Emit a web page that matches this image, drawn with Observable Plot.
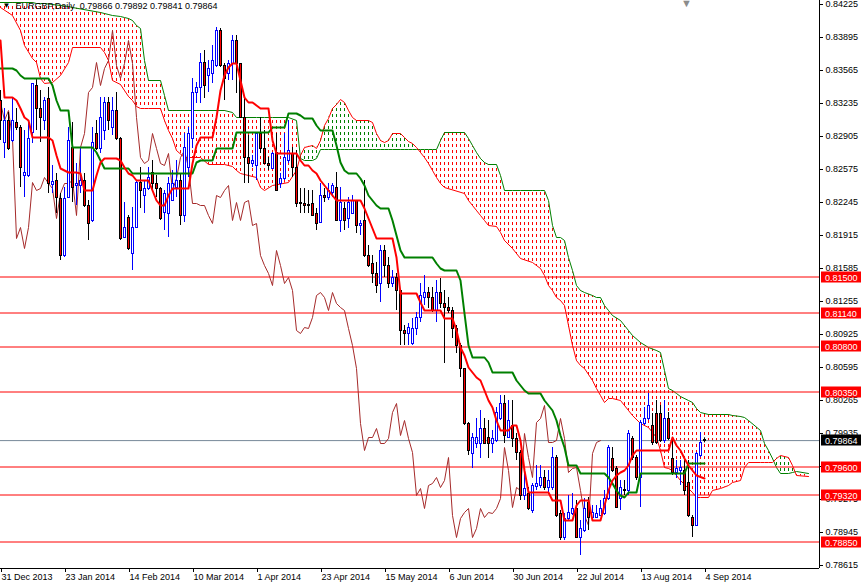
<!DOCTYPE html>
<html><head><meta charset="utf-8">
<script src="https://cdn.jsdelivr.net/npm/d3@7"></script>
<script src="https://cdn.jsdelivr.net/npm/@observablehq/plot@0.6"></script>
<style>
html,body{margin:0;padding:0;background:#fff;}
#chart{position:relative;width:861px;height:585px;overflow:hidden;}
</style></head><body>
<svg width="0" height="0" style="position:absolute">
<defs>
<pattern id="hatchRed" patternUnits="userSpaceOnUse" x="0" y="0" width="4" height="6"><rect x="0" y="0" width="1" height="3" fill="#ff0000"/></pattern>
<pattern id="hatchGreen" patternUnits="userSpaceOnUse" x="0" y="0" width="4" height="6"><rect x="0" y="0" width="1" height="3" fill="#008000"/></pattern>
</defs></svg>
<div id="chart"></div>
<script>
// ---------------- data ----------------
const symbolTitle = "EURGBP,Daily  0.79866 0.79892 0.79841 0.79864";
const tickBars = [0,16,32,48,64,80,96,112,128,144,160,176];
const tickLabels = ["31 Dec 2013","23 Jan 2014","14 Feb 2014","10 Mar 2014","1 Apr 2014","23 Apr 2014","15 May 2014","6 Jun 2014","30 Jun 2014","22 Jul 2014","13 Aug 2014","4 Sep 2014"];
const priceTicks = [0.84225,0.83895,0.83565,0.83235,0.82905,0.82575,0.82245,0.81915,0.81585,0.81255,0.80925,0.80595,0.80265,0.79935,0.79605,0.79275,0.78945,0.78615];
const hiddenTicks = [0.79605];
const levels = [0.81500,0.81140,0.80800,0.80350,0.79600,0.79320,0.78850];
const lastPrice = 0.79864;
const chikouLag = 26;

const opens = [
.83265,.82845,.83065,.82865,.83045,.82995,.82515,.82515,.82945,.83415,
.83185,.83065,.83285,.82425,.82465,.82285,.81715,.82295,.82795,.82415,
.82415,.82465,.82215,.82065,.82935,.82785,.82965,.83245,.82995,.83165,
.82885,.81895,.82095,.81735,.81995,.82445,.82315,.82385,.82545,.82435,
.82385,.82145,.82135,.82265,.82395,.82465,.82115,.82595,.82885,.83345,
.83395,.83645,.83515,.83535,.83615,.83965,.83615,.83535,.83635,.83865,
.83635,.83095,.82695,.82635,.82615,.82935,.82785,.82635,.82585,.82745,
.82435,.82485,.82665,.82735,.82595,.82245,.82235,.82225,.82235,.82135,
.82045,.82315,.82295,.82345,.82395,.82065,.82185,.82085,.82135,.82265,
.82015,.82065,.81715,.81635,.81535,.81435,.81765,.81615,.81435,.81495,
.81365,.80965,.80935,.80835,.80985,.81095,.81295,.81345,.81295,.81165,
.81345,.81235,.81195,.81165,.80985,.80815,.80585,.80035,.79735,.79835,
.79835,.79985,.79895,.79835,.79865,.80085,.80235,.79895,.80015,.79885,
.79745,.79315,.79335,.79165,.79405,.79415,.79495,.79395,.79395,.79695,
.79135,.78895,.79085,.79135,.79185,.78895,.78965,.79245,.79095,.79095,
.79115,.79135,.79285,.79685,.79585,.79285,.79375,.79365,.79885,.79695,
.79495,.80035,.80085,.80015,.80135,.80135,.79865,.80085,.79685,.79545,
.79565,.79565,.79445,.79095,.79015,.79715,.79866];
const highs = [
.83365,.83185,.83145,.83285,.83185,.83015,.82965,.83065,.83435,.83485,
.83365,.83295,.83395,.82615,.82535,.82335,.82395,.82995,.83045,.82635,
.82795,.82535,.82265,.82995,.83065,.83295,.83295,.83295,.83295,.83345,
.82895,.82245,.82115,.82195,.82465,.82595,.82465,.82595,.82665,.82515,
.82395,.82365,.82495,.82565,.82665,.82535,.82935,.82995,.83485,.83445,
.83735,.83765,.83665,.83815,.83995,.83985,.83635,.83665,.83915,.83915,
.83635,.83295,.82915,.82715,.82935,.83095,.82965,.82695,.82745,.82935,
.82535,.82935,.83065,.82795,.82765,.82385,.82385,.82365,.82365,.82185,
.82435,.82385,.82435,.82435,.82545,.82395,.82245,.82295,.82315,.82265,
.82065,.82465,.81815,.81715,.81645,.81815,.81815,.81695,.81565,.81535,
.81365,.81015,.81035,.81085,.81145,.81435,.81515,.81395,.81395,.81465,
.81485,.81365,.81295,.81195,.81015,.80835,.80585,.80045,.79935,.80085,
.80165,.80085,.80065,.79965,.80195,.80315,.80315,.80265,.80265,.79935,
.79765,.79565,.79395,.79435,.79615,.79615,.79565,.79565,.79795,.79715,
.79165,.79135,.79315,.79335,.79265,.79065,.79285,.79295,.79215,.79215,
.79265,.79365,.79815,.79795,.79605,.79465,.79465,.79965,.79905,.79715,
.80065,.80195,.80335,.80135,.80265,.80215,.80265,.80145,.79865,.79665,
.79665,.79685,.79665,.79115,.79745,.79945,.79892];
const lows = [
.82865,.82685,.82765,.82845,.82965,.82395,.82295,.82495,.82835,.82965,
.82845,.82965,.82335,.82335,.82135,.81665,.81695,.82295,.82245,.82215,
.82335,.82195,.81865,.82045,.82765,.82735,.82865,.82965,.82915,.82865,
.81865,.81885,.81765,.81565,.81995,.82185,.82135,.82365,.82365,.82295,
.82065,.81965,.81895,.82265,.82295,.82015,.82045,.82495,.82785,.83235,
.83235,.83285,.83345,.83435,.83595,.83595,.83265,.83465,.83465,.83335,
.83085,.82435,.82435,.82595,.82465,.82735,.82635,.82565,.82585,.82365,
.82385,.82465,.82635,.82495,.82195,.82135,.82135,.82135,.82115,.81965,
.82035,.82245,.82265,.82295,.82065,.81945,.81965,.81985,.82135,.81935,
.81915,.81695,.81595,.81435,.81335,.81245,.81495,.81385,.81395,.81165,
.80815,.80815,.80815,.80815,.80915,.81045,.81215,.81185,.81145,.81045,
.81185,.80635,.81135,.80885,.80735,.80495,.80015,.79715,.79585,.79785,
.79685,.79835,.79685,.79735,.79845,.80065,.79835,.79885,.79795,.79665,
.79265,.79265,.79165,.79135,.79365,.79385,.79365,.79345,.79365,.79095,
.78865,.78865,.79065,.79115,.78885,.78715,.78945,.78965,.79065,.79085,
.79115,.79115,.79265,.79545,.79185,.79165,.79315,.79315,.79665,.79465,
.79195,.80015,.80065,.79815,.79825,.79845,.79835,.79865,.79515,.79485,
.79415,.79315,.79095,.78895,.79015,.79695,.79841];
const closes = [
.83065,.83065,.82785,.83065,.82995,.82595,.82545,.82885,.83435,.83185,
.83095,.83265,.82435,.82455,.82295,.81715,.82285,.82865,.82395,.82435,
.82465,.82215,.82035,.82845,.82785,.83095,.83245,.83065,.83165,.82885,
.81885,.81995,.81785,.81995,.82445,.82365,.82385,.82495,.82435,.82385,
.82085,.82335,.82435,.82435,.82465,.82115,.82795,.82935,.83345,.83395,
.83645,.83415,.83585,.83665,.83965,.83615,.83485,.83635,.83865,.83635,
.83095,.82695,.82635,.82665,.82935,.82785,.82635,.82615,.82735,.82365,
.82485,.82695,.82765,.82595,.82235,.82235,.82215,.82215,.82115,.82035,
.82315,.82295,.82365,.82415,.82065,.82245,.82065,.82245,.82265,.82015,
.82035,.81715,.81615,.81535,.81415,.81765,.81615,.81435,.81495,.81365,
.80965,.80935,.80995,.80985,.81095,.81315,.81345,.81295,.81165,.81345,
.81235,.81195,.81165,.80985,.80815,.80585,.80035,.79765,.79895,.79895,
.79985,.79835,.79835,.79885,.80145,.80235,.79915,.80065,.79885,.79745,
.79315,.79385,.79185,.79415,.79435,.79495,.79395,.79465,.79695,.79115,
.78895,.79085,.79145,.79185,.78895,.78985,.79185,.79095,.79145,.79135,
.79185,.79285,.79795,.79565,.79195,.79395,.79365,.79935,.79695,.79495,
.80045,.80085,.80215,.79845,.79845,.79865,.80085,.79885,.79545,.79585,
.79595,.79365,.79115,.79015,.79735,.79845,.79864];

// Tenkan-sen [bar, price]
const tenkan = [[0,.83865],[1,.83295],[3,.83295],[4,.83265],[5,.83185],[6,.83095],[7,.83065],[8,.82895],[12,.82895],[13,.82865],[14,.82715],[15,.82585],[16,.82565],[17,.82545],[19,.82545],[20,.82535],[21,.82365],[23,.82365],[24,.82515],[25,.82645],[26,.82685],[29,.82685],[30,.82665],[31,.82595],[32,.82535],[33,.82515],[34,.82465],[37,.82465],[38,.82365],[39,.82265],[40,.82215],[41,.82215],[42,.82315],[43,.82385],[47,.82385],[48,.82635],[49,.82815],[50,.82895],[53,.82895],[54,.83095],[55,.83365],[56,.83515],[57,.83595],[58,.83635],[59,.83635],[60,.83465],[61,.83295],[62,.83245],[63,.83245],[64,.83215],[65,.83185],[67,.83185],[68,.82865],[69,.82735],[74,.82735],[75,.82665],[76,.82615],[77,.82615],[78,.82565],[79,.82535],[80,.82465],[81,.82415],[82,.82365],[83,.82315],[84,.82265],[90,.82265],[91,.82185],[92,.82085],[93,.81985],[94,.81885],[98,.81885],[99,.81695],[100,.81335],[104,.81335],[105,.81245],[106,.81165],[110,.81165],[111,.81085],[113,.81085],[114,.80965],[115,.80795],[116,.80715],[117,.80595],[118,.80545],[119,.80495],[120,.80465],[121,.80365],[122,.80265],[123,.80195],[124,.80065],[125,.79965],[127,.79965],[128,.80015],[129,.80015],[130,.79865],[131,.79565],[132,.79345],[137,.79345],[138,.79265],[140,.79265],[141,.79065],[143,.79065],[144,.79215],[145,.79265],[147,.79265],[148,.79065],[150,.79065],[151,.79215],[152,.79365],[153,.79465],[154,.79515],[155,.79545],[156,.79565],[157,.79615],[158,.79715],[159,.79765],[167,.79765],[168,.79895],[169,.79815],[170,.79765],[171,.79685],[172,.79615],[173,.79565],[174,.79515],[176,.79485]];
// Kijun-sen [bar, price]
const kijun = [[0,.83585],[3,.83585],[4,.83565],[5,.83515],[6,.83485],[12,.83485],[13,.83415],[14,.83265],[15,.83165],[17,.83165],[18,.82795],[23,.82795],[24,.82745],[25,.82665],[26,.82585],[32,.82585],[33,.82535],[48,.82535],[49,.82645],[50,.82665],[53,.82665],[54,.82785],[58,.82785],[59,.82945],[67,.82945],[68,.82995],[71,.82995],[72,.83135],[74,.83135],[75,.83115],[76,.83085],[78,.83085],[79,.83015],[80,.82965],[83,.82965],[84,.82815],[85,.82645],[86,.82565],[87,.82535],[89,.82535],[90,.82485],[91,.82415],[92,.82315],[93,.82265],[94,.82215],[95,.82185],[97,.82185],[98,.82065],[99,.81915],[100,.81765],[101,.81695],[108,.81695],[109,.81635],[110,.81585],[111,.81565],[114,.81565],[115,.81465],[116,.81135],[117,.80815],[118,.80695],[121,.80695],[122,.80645],[123,.80545],[128,.80545],[129,.80465],[130,.80415],[131,.80365],[132,.80335],[135,.80335],[136,.80265],[137,.80215],[138,.80165],[139,.80065],[140,.79915],[141,.79795],[142,.79615],[144,.79615],[145,.79535],[151,.79535],[152,.79495],[153,.79435],[154,.79365],[155,.79315],[156,.79295],[157,.79345],[159,.79345],[160,.79535],[171,.79535],[172,.79635],[176,.79635]];
// Senkou spans [bar, spanA, spanB]
const spans = [[0,.84195,.84245],[3,.84115,.84245],[5,.83965,.84245],[6,.83815,.84245],[8,.83685,.84245],[9,.83645,.84235],[10,.83485,.84235],[11,.83435,.84235],[13,.83445,.84225],[15,.83515,.84215],[17,.83645,.84205],[18,.83795,.84195],[25,.83795,.84145],[26,.83745,.84135],[27,.83665,.84125],[28,.83465,.84115],[30,.83425,.84105],[31,.83365,.84095],[32,.83305,.84085],[33,.83265,.84065],[34,.83205,.84015],[35,.83185,.83985],[36,.83185,.83665],[37,.83185,.83465],[40,.83185,.83465],[41,.83065,.83315],[42,.82965,.83165],[43,.82885,.83165],[44,.82765,.83165],[46,.82695,.83165],[50,.82695,.83165],[52,.82625,.83165],[56,.82625,.83165],[58,.82605,.83145],[59,.82565,.83095],[60,.82535,.83095],[64,.82495,.83095],[65,.82395,.83095],[66,.82365,.83095],[68,.82415,.83095],[72,.82445,.83095],[74,.82565,.83065],[75,.82715,.82685],[76,.82795,.82665],[78,.82815,.82665],[79,.82785,.82685],[80,.82865,.82775],[81,.83015,.82775],[82,.83085,.82775],[83,.83185,.82775],[84,.83225,.82775],[85,.83275,.82775],[86,.83245,.82775],[87,.83165,.82775],[88,.83095,.82775],[89,.83065,.82775],[92,.83065,.82775],[93,.83045,.82775],[94,.82935,.82775],[95,.82865,.82775],[96,.82845,.82775],[97,.82865,.82775],[98,.82935,.82775],[100,.82935,.82775],[101,.82895,.82775],[102,.82855,.82775],[103,.82835,.82775],[104,.82795,.82775],[105,.82745,.82775],[106,.82695,.82775],[107,.82635,.82775],[108,.82565,.82775],[109,.82495,.82775],[110,.82435,.82865],[111,.82395,.82945],[116,.82335,.82945],[117,.82265,.82885],[118,.82215,.82815],[119,.82165,.82745],[120,.82115,.82685],[121,.82065,.82645],[122,.82015,.82625],[124,.82005,.82625],[125,.81945,.82515],[126,.81865,.82365],[128,.81785,.82365],[130,.81685,.82365],[133,.81645,.82365],[135,.81585,.82365],[136,.81515,.82365],[137,.81415,.82265],[138,.81365,.82015],[139,.81295,.81895],[140,.81265,.81895],[141,.81215,.81865],[142,.81015,.81695],[143,.80815,.81565],[144,.80665,.81415],[145,.80615,.81365],[146,.80585,.81345],[148,.80465,.81315],[149,.80385,.81295],[150,.80315,.81295],[151,.80245,.81215],[152,.80285,.81165],[153,.80285,.81115],[155,.80265,.81065],[157,.80165,.80965],[158,.80115,.80915],[160,.80035,.80845],[162,.79995,.80795],[164,.79895,.80765],[165,.79765,.80745],[166,.79595,.80565],[167,.79585,.80385],[168,.79565,.80365],[169,.79515,.80335],[170,.79465,.80305],[172,.79385,.80265],[173,.79345,.80245],[174,.79295,.80185],[175,.79295,.80145],[177,.79295,.80125],[178,.79365,.80125],[180,.79385,.80125],[182,.79415,.80125],[183,.79445,.80115],[185,.79465,.80105],[186,.79595,.80095],[187,.79645,.80065],[190,.79645,.79965],[191,.79645,.79835],[192,.79645,.79765],[193,.79645,.79685],[194,.79685,.79595],[195,.79715,.79535],[197,.79695,.79535],[198,.79615,.79545],[199,.79515,.79555],[202,.79505,.79535]];

// ---------------- build ----------------
const candles = opens.map((o, i) => ({i, open: o, high: highs[i], low: lows[i], close: closes[i]}));
const bull = candles.filter(d => d.close >= d.open);
const bear = candles.filter(d => d.close < d.open);
const chikou = candles.map(d => ({x: d.i - chikouLag, y: d.close}));
const cloud = spans.map(([bar, A, B]) => ({bar, A, B}));

const RED = "#ff0000", GREEN = "#008000", BLUE = "#0000ff", BROWN = "#a52a2a";
const fmt = d3.format(".5f");
const FONT = "'Liberation Sans', Arial, sans-serif";

const chart = Plot.plot({
  width: 861, height: 585,
  marginLeft: 0, marginTop: 0, marginRight: 42, marginBottom: 17,
  x: {domain: [0, 204.75], axis: null},
  y: {domain: [0.78585, 0.84265], axis: null},
  style: {fontFamily: FONT, fontSize: "9px", background: "#fff", color: "#000"},
  marks: [
    Plot.areaY(cloud, {x: "bar", y1: "A", y2: d => Math.max(d.A, d.B), fill: "url(#hatchRed)"}),
    Plot.areaY(cloud, {x: "bar", y1: "B", y2: d => Math.max(d.A, d.B), fill: "url(#hatchGreen)"}),
    Plot.line(cloud, {x: "bar", y: "B", stroke: GREEN, strokeWidth: 1}),
    Plot.line(cloud, {x: "bar", y: "A", stroke: RED, strokeWidth: 1}),
    Plot.ruleY(levels, {stroke: RED, strokeWidth: 1}),
    Plot.ruleY([lastPrice], {stroke: "#778899", strokeWidth: 1}),
    Plot.line(chikou, {x: "x", y: "y", stroke: BROWN, strokeWidth: 1, clip: true}),
    Plot.ruleX(bear, {x: "i", y1: "low", y2: "high", stroke: "#000", strokeWidth: 1}),
    Plot.ruleX(bull, {x: "i", y1: "low", y2: "high", stroke: BLUE, strokeWidth: 1}),
    Plot.rect(bear, {x1: d => d.i - 0.25, x2: d => d.i + 0.25, y1: "open", y2: "close", fill: RED, stroke: "#000", strokeWidth: 1, shapeRendering: "crispEdges"}),
    Plot.rect(bull, {x1: d => d.i - 0.25, x2: d => d.i + 0.25, y1: "open", y2: "close", fill: "#fff", stroke: BLUE, strokeWidth: 1, shapeRendering: "crispEdges"}),
    Plot.line(kijun, {x: d => d[0], y: d => d[1], stroke: GREEN, strokeWidth: 2}),
    Plot.line(tenkan, {x: d => d[0], y: d => d[1], stroke: RED, strokeWidth: 2}),
    Plot.ruleY([0.78585], {stroke: "#000"}),
    Plot.ruleX([204.75], {stroke: "#000"}),
    Plot.axisY({anchor: "right", ticks: priceTicks, tickFormat: d => hiddenTicks.includes(d) ? "" : fmt(d), tickSize: 3, tickPadding: 3, fontSize: 9, label: null}),
    Plot.axisX({anchor: "bottom", ticks: tickBars, tickFormat: d => tickLabels[tickBars.indexOf(d)], tickSize: 4, tickPadding: 1, textAnchor: "start", dx: 1, fontSize: 9, label: null}),
    Plot.text(["\u25BC"], {frameAnchor: "top-left", dx: 2, dy: 2, lineAnchor: "top", textAnchor: "start", fontSize: 8, fill: "#000"}),
    Plot.text([symbolTitle], {frameAnchor: "top-left", dx: 15, dy: 2, lineAnchor: "top", textAnchor: "start", fontSize: 9, fill: "#000"}),
    Plot.text(["\u25BC"], {frameAnchor: "top-right", dx: -133, dy: -1, lineAnchor: "top", textAnchor: "middle", fontSize: 11, fill: "#8c8c8c"})
  ]
});
document.getElementById("chart").appendChild(chart);

// price label boxes on the right axis (positioned through Plot's y scale)
const ys = chart.scale("y");
const svg = d3.select(chart);
const boxes = levels.map(v => ({v, bg: RED})).concat([{v: lastPrice, bg: "#000"}]);
const g = svg.append("g").attr("font-family", FONT).attr("font-size", 9).attr("text-anchor", "start");
boxes.forEach(b => {
  const y = Math.round(ys.apply(b.v));
  g.append("rect").attr("x", 821).attr("y", y - 5.5).attr("width", 40).attr("height", 11).attr("fill", b.bg);
  g.append("text").attr("x", 825).attr("y", y + 3.5).attr("fill", "#fff").attr("text-anchor", "start").text(fmt(b.v));
});
</script>
</body></html>
